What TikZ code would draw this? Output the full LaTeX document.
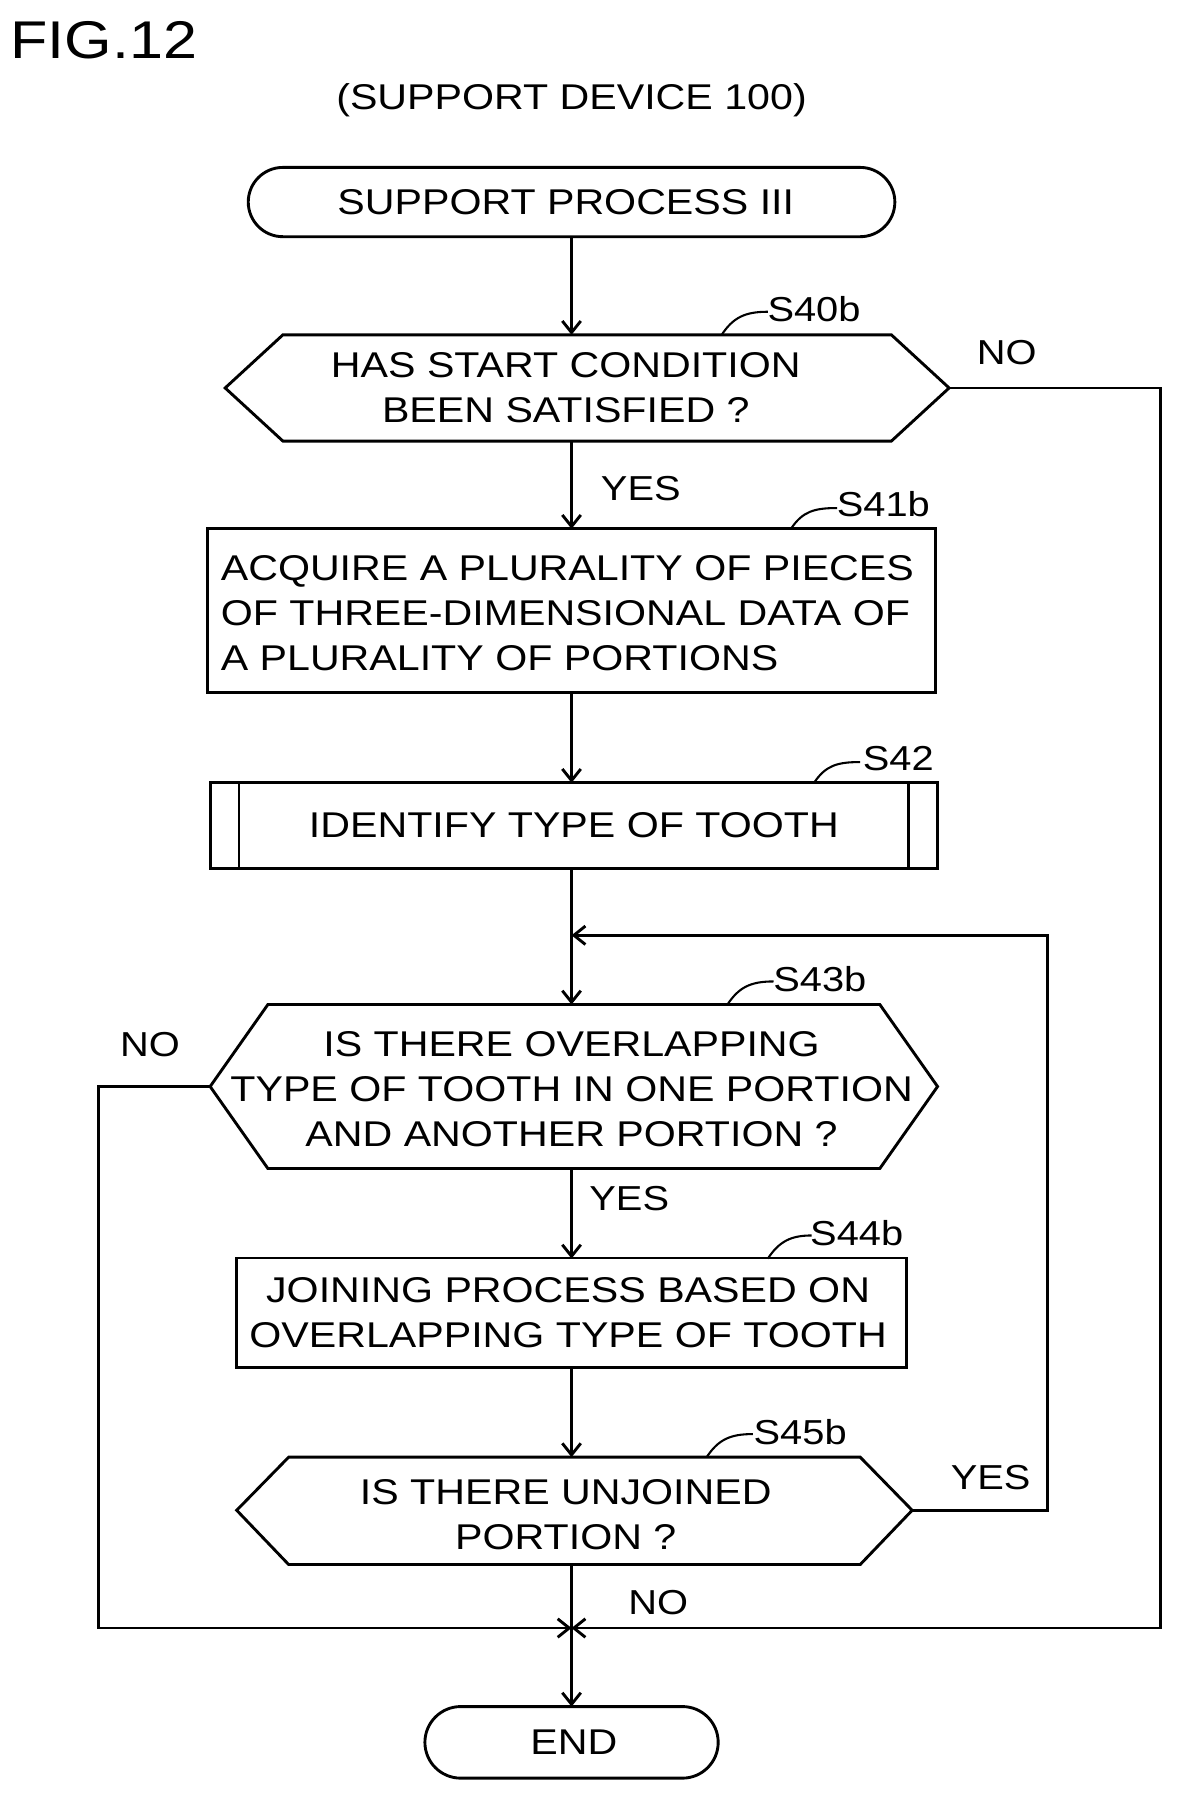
\documentclass[tikz,border=0pt]{standalone}
\usepackage{fontspec}
\setmainfont{Liberation Sans}[FakeStretch=1.15]
\usetikzlibrary{arrows.meta}
\begin{document}
\begin{tikzpicture}[x=1pt,y=-1pt,line width=2.5pt,
  txt/.style={font=\fontsize{31}{39}\selectfont,align=center,inner sep=0},
  lab/.style={font=\fontsize{30}{34}\selectfont,inner sep=0},
  arr/.style={-{Straight Barb[length=10pt,width=16pt]}}]
\useasboundingbox (0,0) rectangle (1024,1565);
\node[inner sep=0,font=\fontsize{46}{50}\selectfont] (fig) at (90,35) {FIG.12};
\node[txt] (dev) at (495,87) {(SUPPORT DEVICE 100)};
% start
\draw[rounded corners=30pt] (215,145) rectangle (775,205);
\node[txt] (start) at (490,175) {SUPPORT PROCESS III};
\coordinate (startb) at (495,205);
% S40b
\draw (195,336) -- (245,290) -- (772,290) -- (822,336) -- (772,382) -- (245,382) -- cycle;
\node[txt] (s40) at (490,336) {HAS START CONDITION\\BEEN SATISFIED ?};
\coordinate (s40t) at (495,290); \coordinate (s40b) at (495,382); \coordinate (s40r) at (822,336);
\node[lab] (l40) at (705,268) {S40b};
\draw[line width=1.8pt] (625,290) .. controls (635,275) and (645,270) .. (665,270);
% S41b
\node[draw,minimum width=630pt,minimum height=142pt,inner sep=0] (s41) at (495,529) {};
\node[txt,align=left,anchor=west] (s41t) at (190,531) {ACQUIRE A PLURALITY OF PIECES\\OF THREE-DIMENSIONAL DATA OF\\A PLURALITY OF PORTIONS};
\node[lab] (l41) at (765,437) {S41b};
\draw[line width=1.8pt] (685,458) .. controls (695,443) and (705,440) .. (725,440);
% S42
\node[draw,minimum width=630pt,minimum height=74pt,inner sep=0] (s42) at (497,715) {};
\draw (207,678) -- (207,752); \draw (787,678) -- (787,752);
\node[txt] (s42t) at (497,715) {IDENTIFY TYPE OF TOOTH};
\node[lab] (l42) at (778,657) {S42};
\draw[line width=1.8pt] (705,678) .. controls (715,663) and (725,660) .. (745,660);
% S43b
\draw (182,941) -- (232,870) -- (762,870) -- (812,941) -- (762,1012) -- (232,1012) -- cycle;
\node[txt] (s43) at (495,943) {IS THERE OVERLAPPING\\TYPE OF TOOTH IN ONE PORTION\\AND ANOTHER PORTION ?};
\coordinate (s43t) at (495,870); \coordinate (s43b) at (495,1012); \coordinate (s43l) at (182,941);
\node[lab] (l43) at (710,848) {S43b};
\draw[line width=1.8pt] (630,870) .. controls (640,855) and (650,850) .. (670,850);
% S44b
\node[draw,minimum width=580pt,minimum height=95pt,inner sep=0] (s44) at (495,1137) {};
\node[txt] (s44t) at (492,1137) {JOINING PROCESS BASED ON\\OVERLAPPING TYPE OF TOOTH};
\node[lab] (l44) at (742,1068) {S44b};
\draw[line width=1.8pt] (665,1090) .. controls (675,1075) and (685,1070) .. (703,1070);
% S45b
\draw (205,1308) -- (250,1262) -- (745,1262) -- (790,1308) -- (745,1355) -- (250,1355) -- cycle;
\node[txt] (s45) at (490,1312) {IS THERE UNJOINED\\PORTION ?};
\coordinate (s45t) at (495,1262); \coordinate (s45b) at (495,1355); \coordinate (s45r) at (790,1308);
\node[lab] (l45) at (693,1240) {S45b};
\draw[line width=1.8pt] (612,1262) .. controls (622,1247) and (632,1242) .. (652,1242);
% END
\draw[rounded corners=31pt] (368,1478) rectangle (622,1540);
\node[txt] (end) at (497,1509) {END};
\coordinate (endt) at (495,1478);
% connectors
\coordinate (j1) at (495,810); \coordinate (j2) at (495,1410);
\draw[arr] (startb) -- (s40t);
\draw[arr] (s40b) -- (495,458);
\draw[arr] (495,600) -- (495,678);
\draw (495,752) -- (j1);
\draw[arr] (j1) -- (s43t);
\draw[arr] (s43b) -- (495,1090);
\draw[arr] (495,1185) -- (s45t);
\draw (s45b) -- (j2);
\draw[arr] (j2) -- (endt);
\draw[arr] (s40r) -- (1005,336) -- (1005,1410) -- (j2);
\draw[arr] (s43l) -- (85,941) -- (85,1410) -- (j2);
\draw[arr] (s45r) -- (907,1308) -- (907,810) -- (j1);
% labels
\node[lab] (no1) at (872,305) {NO};
\node[lab] (yes1) at (555,423) {YES};
\node[lab] (no2) at (130,905) {NO};
\node[lab] (yes2) at (545,1038) {YES};
\node[lab] (yes3) at (858,1280) {YES};
\node[lab] (no3) at (570,1388) {NO};
\end{tikzpicture}
\end{document}
